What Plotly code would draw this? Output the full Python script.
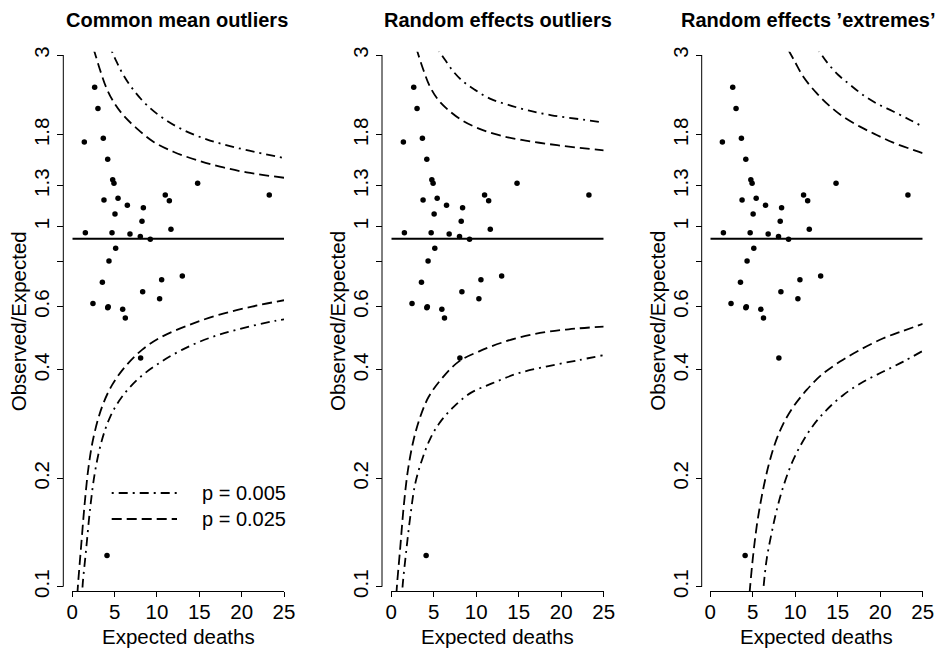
import plotly.graph_objects as go

W, H = 952, 648

# ---- data ----
expected = [2.64, 3.03, 1.42, 3.66, 4.18, 4.77, 4.92, 3.74, 5.40, 6.50, 8.39, 5.04,
            8.23, 10.98, 11.46, 11.65, 14.80, 23.26, 1.54, 4.69, 6.81, 8.03, 9.21,
            5.12, 4.33, 3.55, 8.31, 10.55, 12.99, 10.31, 2.44, 4.18, 4.24, 5.95,
            6.26, 8.07, 4.10]
ratio = [2.44, 2.13, 1.72, 1.76, 1.54, 1.35, 1.32, 1.187, 1.20, 1.147, 1.13, 1.085,
         1.035, 1.225, 1.18, 0.984, 1.32, 1.225, 0.963, 0.962, 0.955, 0.939, 0.923,
         0.871, 0.803, 0.701, 0.660, 0.713, 0.730, 0.631, 0.612, 0.596, 0.599, 0.590,
         0.558, 0.432, 0.122]
overall_ratio = 0.926

titles = ["Common mean outliers", "Random effects outliers", "Random effects \u2019extremes\u2019"]

# funnel limits, panel 1 (common mean)
cm_up025_x = [2.50, 2.68, 3.27, 4.06, 4.84, 6.03, 7.60, 9.57, 11.93, 14.68, 17.44, 20.59, 25.0]
cm_up025_y = [3.12, 3.03, 2.73, 2.42, 2.23, 2.04, 1.877, 1.723, 1.616, 1.532, 1.469, 1.416, 1.368]
cm_up005_x = [4.65, 5.24, 6.03, 7.21, 8.78, 10.75, 13.11, 15.86, 18.62, 21.77, 25.0]
cm_up005_y = [3.08, 2.87, 2.64, 2.40, 2.18, 2.00, 1.857, 1.749, 1.676, 1.609, 1.553]
cm_lo025_x = [0.60, 0.67, 1.07, 1.46, 1.93, 2.52, 3.51, 4.69, 6.26, 8.23, 10.59, 13.74, 17.28, 21.22, 25.0]
cm_lo025_y = [0.095, 0.101, 0.132, 0.170, 0.216, 0.261, 0.316, 0.363, 0.409, 0.455, 0.495, 0.533, 0.569, 0.600, 0.625]
cm_lo005_x = [1.18, 1.22, 1.62, 2.13, 2.72, 3.51, 4.49, 5.87, 7.84, 10.20, 12.95, 16.10, 19.64, 23.97, 25.0]
cm_lo005_y = [0.095, 0.101, 0.126, 0.167, 0.211, 0.256, 0.297, 0.337, 0.379, 0.417, 0.455, 0.490, 0.519, 0.548, 0.553]

# panel 2 (random effects outliers)
re_up025_x = [2.95, 3.10, 3.77, 4.55, 5.53, 6.71, 8.28, 10.24, 12.59, 15.34, 18.47, 21.61, 25.0]
re_up025_y = [3.14, 3.05, 2.73, 2.45, 2.25, 2.11, 1.979, 1.877, 1.799, 1.742, 1.698, 1.662, 1.630]
re_up005_x = [5.53, 6.32, 7.30, 8.47, 9.85, 11.61, 13.77, 16.12, 18.87, 22.0, 25.0]
re_up005_y = [3.10, 2.91, 2.70, 2.53, 2.40, 2.27, 2.18, 2.105, 2.04, 1.992, 1.946]
re_lo025_x = [0.60, 0.67, 1.06, 1.46, 1.96, 2.63, 3.42, 4.40, 5.96, 7.93, 10.28, 13.42, 16.95, 20.87, 25.0]
re_lo025_y = [0.095, 0.101, 0.129, 0.167, 0.211, 0.256, 0.297, 0.337, 0.379, 0.422, 0.450, 0.480, 0.504, 0.519, 0.528]
re_lo005_x = [1.28, 1.34, 1.73, 2.24, 2.83, 3.61, 4.59, 5.77, 7.34, 9.30, 11.85, 14.98, 18.51, 22.04, 25.0]
re_lo005_y = [0.095, 0.101, 0.124, 0.157, 0.194, 0.225, 0.258, 0.287, 0.316, 0.345, 0.367, 0.392, 0.410, 0.426, 0.440]

# panel 3 (random effects extremes)
ex_up025_x = [9.18, 9.97, 10.95, 12.52, 14.09, 15.66, 17.62, 19.58, 21.54, 24.49, 25.0]
ex_up025_y = [3.10, 2.87, 2.61, 2.35, 2.16, 2.02, 1.897, 1.799, 1.712, 1.616, 1.600]
ex_up005_x = [12.71, 13.70, 15.07, 16.45, 18.01, 19.58, 21.54, 23.51, 25.0]
ex_up005_y = [3.10, 2.87, 2.64, 2.48, 2.32, 2.20, 2.09, 1.98, 1.897]
ex_lo025_x = [4.62, 4.99, 5.46, 6.05, 6.83, 7.62, 8.60, 9.77, 11.34, 13.11, 15.27, 17.62, 20.37, 22.72, 25.0]
ex_lo025_y = [0.096, 0.119, 0.147, 0.178, 0.216, 0.250, 0.284, 0.316, 0.352, 0.388, 0.422, 0.455, 0.490, 0.514, 0.537]
ex_lo005_x = [6.20, 6.63, 7.22, 7.81, 8.60, 9.58, 10.75, 12.13, 13.70, 15.66, 18.01, 20.37, 22.72, 25.0]
ex_lo005_y = [0.096, 0.119, 0.141, 0.163, 0.190, 0.220, 0.250, 0.281, 0.310, 0.341, 0.371, 0.396, 0.422, 0.452]

x_ticks = [0, 5, 10, 15, 20, 25]
y_ticks = [0.1, 0.2, 0.4, 0.6, 0.8, 1, 1.3, 1.8, 3]
y_ticktext = ["0.1", "0.2", "0.4", "0.6", "", "1", "1.3", "1.8", "3"]
legend_labels = ["p = 0.005", "p = 0.025"]

panels = [
    (cm_up025_x, cm_up025_y, cm_lo025_x, cm_lo025_y, cm_up005_x, cm_up005_y, cm_lo005_x, cm_lo005_y),
    (re_up025_x, re_up025_y, re_lo025_x, re_lo025_y, re_up005_x, re_up005_y, re_lo005_x, re_lo005_y),
    (ex_up025_x, ex_up025_y, ex_lo025_x, ex_lo025_y, ex_up005_x, ex_up005_y, ex_lo005_x, ex_lo005_y),
]

# ---- layout geometry (pixels) ----
x0_px = [72.3, 391.3, 710.3]
x1_px = [284.0, 603.7, 922.7]
yaxis_px = [63.3, 382.0, 701.7]
title_cx = [176.5, 497.5, 808.5]
y_top_px, y_bot_px = 51.7, 591.0
y3_px, y01_px = 55.0, 586.7

FONT = "Liberation Sans, Arial, Helvetica, sans-serif"
DASH = "10px,5px"
DOTDASH = "2px,5px,9px,5px"
LW = 1.8

fig = go.Figure()
layout = dict(
    template="none",
    width=W, height=H, margin=dict(l=0, r=0, t=0, b=0, pad=0, autoexpand=False),
    paper_bgcolor="white", plot_bgcolor="white", showlegend=False,
    font=dict(family=FONT, size=20, color="black"),
)
shapes, annotations = [], []

for i, curves in enumerate(panels):
    sfx = "" if i == 0 else str(i + 1)
    xa, ya = "x" + sfx, "y" + sfx
    u25x, u25y, l25x, l25y, u05x, u05y, l05x, l05y = curves
    for cx, cy, d in [(u25x, u25y, DASH), (l25x, l25y, DASH),
                      (u05x, u05y, DOTDASH), (l05x, l05y, DOTDASH)]:
        fig.add_trace(go.Scatter(x=cx, y=cy, mode="lines", xaxis=xa, yaxis=ya,
                                 line=dict(color="black", width=LW, dash=d, shape="spline"),
                                 hoverinfo="skip"))
    fig.add_trace(go.Scatter(x=[0, 25], y=[overall_ratio, overall_ratio], mode="lines",
                             xaxis=xa, yaxis=ya, line=dict(color="black", width=LW)))
    fig.add_trace(go.Scatter(x=expected, y=ratio, mode="markers", xaxis=xa, yaxis=ya,
                             marker=dict(color="black", size=5.5), cliponaxis=False))

    layout["xaxis" + sfx] = dict(
        domain=[x0_px[i] / W, x1_px[i] / W], range=[0, 25], anchor=ya,
        automargin=False,
        showline=True, linecolor="black", linewidth=1, mirror=False,
        ticks="outside", ticklen=5, tickwidth=1, tickcolor="black",
        tickvals=x_ticks, showgrid=False, zeroline=False,
        ticklabelstandoff=-3,
        tickfont=dict(size=20.5),
    )
    layout["yaxis" + sfx] = dict(
        type="log", domain=[1 - y_bot_px / H, 1 - y_top_px / H],
        range=[-1.01194, 0.48629], anchor="free", position=yaxis_px[i] / W,
        automargin=False,
        showline=False, ticks="outside", ticklen=6, tickwidth=1, tickcolor="black",
        tickvals=y_ticks, ticktext=y_ticktext, tickangle=-90,
        showgrid=False, zeroline=False, tickfont=dict(size=20.5),
    )
    # y axis line from first to last tick (R style)
    shapes.append(dict(type="line", xref="paper", yref="paper",
                       x0=yaxis_px[i] / W, x1=yaxis_px[i] / W,
                       y0=1 - y01_px / H, y1=1 - y3_px / H,
                       line=dict(color="black", width=1)))
    cx_px = (x0_px[i] + x1_px[i]) / 2
    annotations.append(dict(text="<b>" + titles[i] + "</b>", xref="paper", yref="paper",
                            x=title_cx[i] / W, y=1 - 20 / H, xanchor="center", yanchor="middle",
                            showarrow=False, font=dict(size=20)))
    annotations.append(dict(text="Expected deaths", xref="paper", yref="paper",
                            x=cx_px / W, y=1 - 636 / H, xanchor="center", yanchor="middle",
                            showarrow=False, font=dict(size=20.5)))
    annotations.append(dict(text="Observed/Expected", xref="paper", yref="paper",
                            x=(yaxis_px[i] - 45.0) / W, y=1 - 321 / H, xanchor="center",
                            yanchor="middle", textangle=-90, showarrow=False,
                            font=dict(size=20.5)))

# legend in panel 1
for j, (lab, d, ypx, xend) in enumerate([(legend_labels[0], DOTDASH, 493, 180),
                                          (legend_labels[1], DASH, 519, 177)]):
    shapes.append(dict(type="line", xref="paper", yref="paper",
                       x0=111.7 / W, x1=xend / W, y0=1 - ypx / H, y1=1 - ypx / H,
                       line=dict(color="black", width=LW, dash=d)))
    annotations.append(dict(text=lab, xref="paper", yref="paper", x=200 / W,
                            y=1 - ypx / H, xanchor="left", yanchor="middle",
                            showarrow=False, font=dict(size=20)))

layout["shapes"] = shapes
layout["annotations"] = annotations
fig.update_layout(**layout)
fig.write_html("out.html", config={"displayModeBar": False},
               post_script="document.body.style.margin='0';")
